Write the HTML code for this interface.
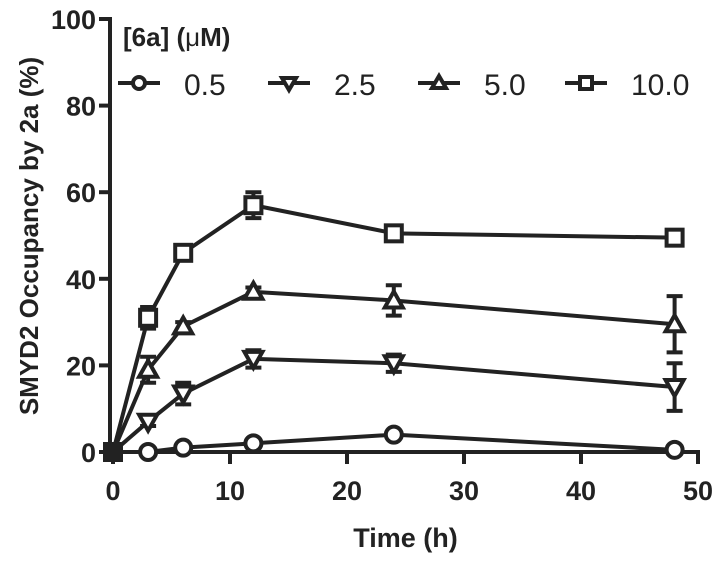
<!DOCTYPE html>
<html><head><meta charset="utf-8"><style>
body{margin:0;background:#fff}
svg text{font-family:"Liberation Sans",Arial,sans-serif;fill:#222}
</style></head><body>
<svg id="c" width="720" height="560"></svg>
<script>
const times=[0,3,6,12,24,48];
const seriesNames=["0.5","2.5","5.0","10.0"];
const s05=[0,0,1,2,4,0.5];
const s25=[0,7,13.5,21.5,20.5,15];
const s50=[0,19,29,37,35,29.5];
const s100=[0,31,46,57,50.5,49.5];
const e05=[0,0.5,0.5,0.5,0.8,0.5];
const e25=[0,1,2.5,2,2,5.5];
const e50=[0,3,1,1,3.5,6.5];
const e100=[0,2.5,1,3,1,1];
const xTicks=[0,10,20,30,40,50];
const yTicks=[0,20,40,60,80,100];
const NS="http://www.w3.org/2000/svg";
const svg=document.getElementById('c');
const X=v=>113+v*11.7, Y=v=>452-v*4.33;
function el(t,a,p){const e=document.createElementNS(NS,t);for(const k in a)e.setAttribute(k,a[k]);(p||svg).appendChild(e);return e;}
let a=el('line',{x1:110,y1:Y(100)-2,x2:110,y2:452,stroke:'#222','stroke-width':4});


a=el('line',{x1:110,y1:452,x2:X(50)+2,y2:452,stroke:'#222','stroke-width':4});


yTicks.forEach(v=>{el('line',{x1:99,y1:Y(v),x2:110,y2:Y(v),stroke:'#222','stroke-width':4});
 const t=el('text',{x:96,y:Y(v)+10,'text-anchor':'end','font-size':27,'font-weight':'bold'});t.textContent=v;
 
 });
xTicks.forEach(v=>{el('line',{x1:X(v),y1:452,x2:X(v),y2:464,stroke:'#222','stroke-width':4});
 const t=el('text',{x:X(v),y:500,'text-anchor':'middle','font-size':27,'font-weight':'bold'});t.textContent=v;
 
 });
let t=el('text',{x:X(25),y:547,'text-anchor':'middle','font-size':27,'font-weight':'bold'});t.textContent='Time (h)';


t=el('text',{x:0,y:0,'text-anchor':'middle','font-size':26,'font-weight':'bold',transform:'translate(38,236) rotate(-90)'});t.textContent='SMYD2 Occupancy by 2a (%)';


function marker(kind,x,y,g,sz){
 const r=sz||8;
 if(kind==0)el('circle',{cx:x,cy:y,r:r,fill:'#fff',stroke:'#222','stroke-width':4},g);
 else if(kind==1)el('polygon',{points:`${x-r-1},${y-r+1} ${x+r+1},${y-r+1} ${x},${y+r+1}`,fill:'#fff',stroke:'#222','stroke-width':4},g);
 else if(kind==2)el('polygon',{points:`${x-r-1},${y+r-1} ${x+r+1},${y+r-1} ${x},${y-r-1}`,fill:'#fff',stroke:'#222','stroke-width':4},g);
 else el('rect',{x:x-r,y:y-r,width:2*r,height:2*r,fill:'#fff',stroke:'#222','stroke-width':4},g);
}
const data=[s05,s25,s50,s100], errs=[e05,e25,e50,e100];
data.forEach((s,k)=>{
 const g=el('g',{});
 
 
 el('polyline',{points:times.map((tm,i)=>X(tm)+','+Y(s[i])).join(' '),fill:'none',stroke:'#222','stroke-width':4},g);
 times.forEach((tm,i)=>{const e=errs[k][i];if(e>0){
  el('line',{x1:X(tm),y1:Y(s[i]-e),x2:X(tm),y2:Y(s[i]+e),stroke:'#222','stroke-width':4},g);
  el('line',{x1:X(tm)-8,y1:Y(s[i]-e),x2:X(tm)+8,y2:Y(s[i]-e),stroke:'#222','stroke-width':4},g);
  el('line',{x1:X(tm)-8,y1:Y(s[i]+e),x2:X(tm)+8,y2:Y(s[i]+e),stroke:'#222','stroke-width':4},g);}});
 times.forEach((tm,i)=>{ if(tm===0) el('rect',{x:X(0)-10,y:Y(0)-10,width:20,height:20,fill:'#222'},g); else marker(k,X(tm),Y(s[i]),g);});
});
t=el('text',{x:123,y:46,'font-size':26,'font-weight':'bold'});t.innerHTML='[6a] (<tspan font-weight="normal">μ</tspan>M)';


const lx=[118,268,418,565];
seriesNames.forEach((n,k)=>{const g=el('g',{});
 
 
 el('line',{x1:lx[k],y1:83,x2:lx[k]+42,y2:83,stroke:'#222','stroke-width':4},g);
 marker(k,lx[k]+21,83,g,6);
 const tt=el('text',{x:lx[k]+66,y:95,'font-size':30},g);tt.textContent=n;});
</script>
</body></html>
